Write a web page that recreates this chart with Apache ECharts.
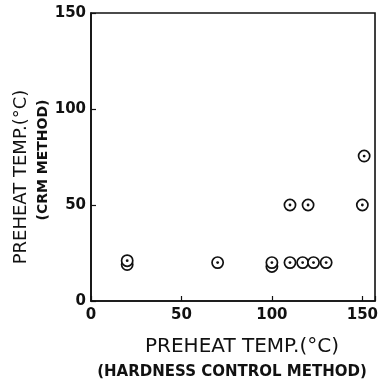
<!DOCTYPE html>
<html><head><meta charset="utf-8">
<script src="https://cdn.jsdelivr.net/npm/echarts@6/dist/echarts.min.js"></script>
<style>html,body{margin:0;padding:0;background:#fff}#c{width:381px;height:385px}</style>
</head><body><div id="c"></div>
<script>
// Data: [hardness-control preheat temp, CRM preheat temp]
const hardnessTemp = [20, 20, 70, 100, 100, 110, 117, 123, 130, 110, 120, 150, 151];
const crmTemp      = [19, 21, 20, 18, 20, 20, 20, 20, 20, 50, 50, 50, 75.5];
const xTicks = [0, 50, 100, 150];
const yTicks = [0, 50, 100, 150];
const xTitle = 'PREHEAT TEMP.(°C)';
const xSubtitle = '(HARDNESS CONTROL METHOD)';
const yTitle = 'PREHEAT TEMP.(°C)';
const ySubtitle = '(CRM METHOD)';

const points = hardnessTemp.map((x, i) => [x, crmTemp[i]]);
const chart = echarts.init(document.getElementById('c'), null, {renderer: 'canvas'});
const FONT = 'DejaVu Sans';
chart.setOption({
  animation: false,
  backgroundColor: '#fff',
  grid: {left: 91, top: 13, right: 4, bottom: 84, show: true, borderColor: '#111', borderWidth: 1.6, backgroundColor: 'transparent'},
  xAxis: {
    type: 'value', min: 0, max: 157, interval: 50,
    axisLine: {show: true, lineStyle: {color: '#111', width: 1.6}},
    axisTick: {show: true, inside: true, length: 5, lineStyle: {color: '#111', width: 1.2}},
    axisLabel: {color: '#111', fontFamily: FONT, fontWeight: 'bold', fontSize: 15, margin: 7,
      formatter: v => xTicks.includes(v) ? String(v) : ''},
    splitLine: {show: false}
  },
  yAxis: {
    type: 'value', min: 0, max: 150, interval: 50,
    axisLine: {show: true, lineStyle: {color: '#111', width: 1.6}},
    axisTick: {show: true, inside: true, length: 5, lineStyle: {color: '#111', width: 1.2}},
    axisLabel: {color: '#111', fontFamily: FONT, fontWeight: 'bold', fontSize: 15, margin: 5,
      formatter: v => yTicks.includes(v) ? String(v) : ''},
    splitLine: {show: false}
  },
  graphic: [
    {type: 'text', x: 242, y: 347, style: {text: xTitle, fill: '#111', font: 'normal 20px "DejaVu Sans"', align: 'center', verticalAlign: 'middle'}},
    {type: 'text', x: 232, y: 372, style: {text: xSubtitle, fill: '#111', font: 'bold 15px "DejaVu Sans"', align: 'center', verticalAlign: 'middle'}},
    {type: 'text', x: 21, y: 177, rotation: Math.PI / 2, style: {text: yTitle, fill: '#111', font: 'normal 18px "DejaVu Sans"', align: 'center', verticalAlign: 'middle'}},
    {type: 'text', x: 43, y: 160, rotation: Math.PI / 2, style: {text: ySubtitle, fill: '#111', font: 'bold 14px "DejaVu Sans"', align: 'center', verticalAlign: 'middle'}}
  ],
  series: [{
    type: 'custom',
    coordinateSystem: 'cartesian2d',
    data: points,
    renderItem: function (params, api) {
      const p = api.coord([api.value(0), api.value(1)]);
      return {
        type: 'group',
        children: [
          {type: 'circle', shape: {cx: p[0], cy: p[1], r: 5.6}, style: {fill: '#fff', stroke: '#111', lineWidth: 1.7}},
          {type: 'circle', shape: {cx: p[0], cy: p[1], r: 1.4}, style: {fill: '#111'}}
        ]
      };
    }
  }]
});
</script></body></html>
